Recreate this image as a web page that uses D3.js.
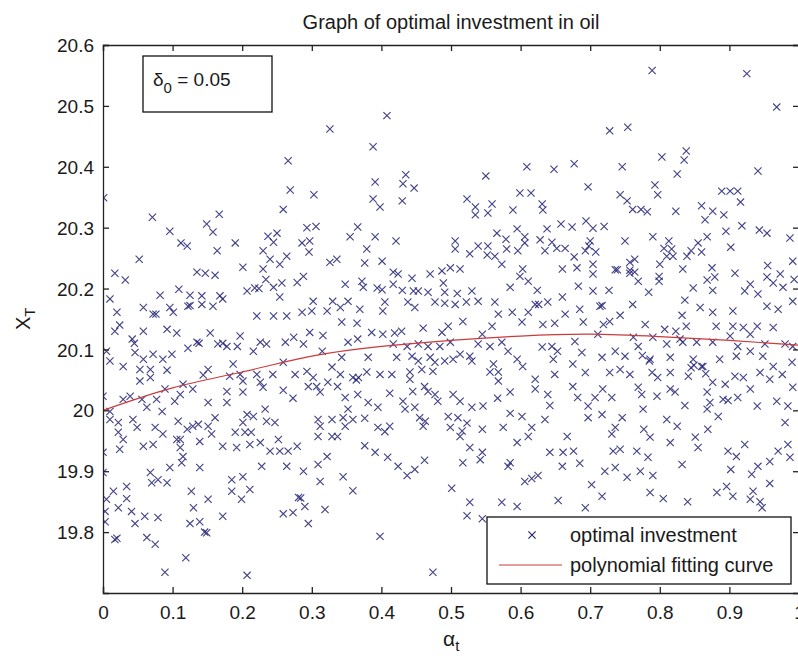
<!DOCTYPE html>
<html>
<head>
<meta charset="utf-8">
<script src="https://cdn.jsdelivr.net/npm/d3@7"></script>
<style>
  body { margin: 0; background: #fff; }
  svg text { font-family: "Liberation Sans", Arial, sans-serif; fill: #1a1a1a; }
</style>
</head>
<body>
<div id="chart"></div>
<script>
// alpha_t on x, X_T on y
const points = [
  [0.326,20.462],[0.266,20.41],[0.269,20.362],[0.303,20.354],[0.259,20.33],[0.001,20.349],[0.071,20.317],[0.167,20.322],
  [0.149,20.306],[0.158,20.293],[0.096,20.294],[0.293,20.30],[0.306,20.302],[0.112,20.275],[0.121,20.27],[0.19,20.275],
  [0.164,20.262],[0.237,20.286],[0.25,20.291],[0.245,20.276],[0.286,20.275],[0.297,20.278],[0.296,20.26],[0.23,20.262],
  [0.24,20.248],[0.254,20.24],[0.264,20.253],[0.052,20.248],[0.326,20.243],[0.017,20.225],[0.032,20.214],[0.135,20.227],
  [0.147,20.225],[0.161,20.222],[0.201,20.235],[0.23,20.232],[0.234,20.215],[0.279,20.21],[0.288,20.22],[0.257,20.209],
  [0.109,20.199],[0.125,20.189],[0.082,20.189],[0.142,20.188],[0.168,20.188],[0.207,20.196],[0.218,20.201],[0.245,20.202],
  [0.254,20.186],[0.01,20.183],[0.058,20.169],[0.096,20.169],[0.122,20.171],[0.142,20.174],[0.158,20.171],[0.172,20.183],
  [0.02,20.161],[0.072,20.158],[0.076,20.158],[0.101,20.161],[0.302,20.179],[0.30,20.163],[0.322,20.163],[0.33,20.179],
  [0.221,20.155],[0.245,20.155],[0.264,20.155],[0.286,20.161],[0.125,20.172],[0.224,20.2],
  [0.408,20.484],[0.388,20.433],[0.391,20.375],[0.435,20.387],[0.431,20.372],[0.447,20.365],[0.388,20.347],[0.398,20.334],
  [0.43,20.344],[0.55,20.385],[0.609,20.40],[0.648,20.396],[0.523,20.347],[0.535,20.334],[0.535,20.321],[0.553,20.324],
  [0.559,20.339],[0.589,20.329],[0.599,20.357],[0.615,20.357],[0.631,20.339],[0.632,20.329],[0.366,20.301],[0.355,20.285],
  [0.391,20.285],[0.421,20.278],[0.379,20.265],[0.376,20.242],[0.401,20.245],[0.336,20.248],[0.506,20.278],[0.506,20.265],
  [0.527,20.257],[0.539,20.27],[0.553,20.27],[0.552,20.255],[0.563,20.253],[0.573,20.24],[0.566,20.291],[0.579,20.281],
  [0.58,20.265],[0.595,20.298],[0.596,20.262],[0.606,20.285],[0.606,20.275],[0.628,20.28],[0.638,20.298],[0.635,20.262],
  [0.645,20.276],[0.652,20.266],[0.658,20.306],[0.664,20.266],[0.66,20.232],[0.348,20.207],[0.372,20.212],[0.374,20.202],
  [0.394,20.201],[0.417,20.227],[0.424,20.224],[0.417,20.207],[0.43,20.197],[0.444,20.217],[0.453,20.196],[0.47,20.224],
  [0.467,20.194],[0.487,20.229],[0.499,20.234],[0.513,20.232],[0.489,20.209],[0.491,20.194],[0.509,20.192],[0.53,20.196],
  [0.539,20.179],[0.563,20.178],[0.585,20.202],[0.599,20.22],[0.603,20.232],[0.611,20.212],[0.624,20.197],[0.621,20.174],
  [0.639,20.178],[0.66,20.186],[0.352,20.179],[0.341,20.169],[0.369,20.166],[0.405,20.178],[0.402,20.163],[0.438,20.178],
  [0.448,20.169],[0.477,20.178],[0.491,20.176],[0.506,20.174],[0.568,20.158],[0.588,20.161],[0.611,20.161],[0.664,20.158],
  [0.401,20.198],[0.446,20.196],[0.522,20.178],[0.626,20.174],
  [0.789,20.558],[0.925,20.553],[0.968,20.498],[0.728,20.459],[0.754,20.465],[0.803,20.416],[0.838,20.426],[0.835,20.411],
  [0.825,20.388],[0.941,20.393],[0.677,20.405],[0.746,20.40],[0.697,20.367],[0.793,20.37],[0.797,20.354],[0.743,20.354],
  [0.753,20.344],[0.761,20.33],[0.773,20.33],[0.782,20.326],[0.823,20.327],[0.889,20.36],[0.901,20.36],[0.912,20.36],
  [0.916,20.342],[0.86,20.336],[0.876,20.327],[0.865,20.313],[0.892,20.321],[0.918,20.303],[0.943,20.296],[0.954,20.291],
  [0.987,20.283],[0.895,20.294],[0.902,20.268],[0.694,20.311],[0.704,20.299],[0.72,20.302],[0.674,20.301],[0.70,20.278],
  [0.698,20.27],[0.693,20.262],[0.708,20.26],[0.677,20.252],[0.75,20.278],[0.79,20.285],[0.813,20.278],[0.806,20.266],
  [0.817,20.265],[0.81,20.253],[0.819,20.253],[0.80,20.24],[0.839,20.253],[0.845,20.262],[0.855,20.275],[0.86,20.26],
  [0.868,20.285],[0.681,20.234],[0.704,20.24],[0.704,20.224],[0.736,20.231],[0.757,20.243],[0.764,20.248],[0.757,20.225],
  [0.764,20.227],[0.769,20.212],[0.799,20.22],[0.799,20.212],[0.833,20.232],[0.875,20.234],[0.868,20.214],[0.879,20.219],
  [0.876,20.197],[0.908,20.225],[0.955,20.238],[0.954,20.219],[0.973,20.224],[0.963,20.209],[0.977,20.202],[0.991,20.245],
  [0.993,20.215],[0.991,20.179],[0.683,20.204],[0.704,20.196],[0.727,20.197],[0.784,20.194],[0.848,20.201],[0.836,20.181],
  [0.858,20.169],[0.922,20.196],[0.93,20.207],[0.941,20.191],[0.954,20.171],[0.97,20.166],[0.714,20.171],[0.685,20.166],
  [0.761,20.174],[0.743,20.156],[0.905,20.163],[0.876,20.161],[0.832,20.156],[0.717,20.172],[0.739,20.231],[0.757,20.23],
  [0.024,20.14],[0.017,20.13],[0.042,20.117],[0.058,20.13],[0.092,20.133],[0.106,20.127],[0.135,20.112],[0.122,20.102],
  [0.154,20.127],[0.165,20.109],[0.178,20.105],[0.197,20.122],[0.193,20.105],[0.216,20.097],[0.226,20.112],[0.235,20.109],
  [0.262,20.112],[0.274,20.12],[0.288,20.109],[0.297,20.128],[0.316,20.123],[0.315,20.097],[0.005,20.097],[0.01,20.081],
  [0.029,20.072],[0.046,20.095],[0.058,20.084],[0.072,20.092],[0.086,20.084],[0.099,20.092],[0.053,20.067],[0.068,20.067],
  [0.092,20.066],[0.053,20.048],[0.068,20.054],[0.151,20.067],[0.144,20.058],[0.187,20.076],[0.197,20.059],[0.182,20.056],
  [0.201,20.048],[0.221,20.059],[0.226,20.046],[0.23,20.038],[0.244,20.059],[0.259,20.079],[0.276,20.059],[0.293,20.064],
  [0.302,20.054],[0.295,20.039],[0.307,20.039],[0.312,20.03],[0.323,20.046],[0.329,20.071],[0.259,20.033],[0.273,20.02],
  [0.129,20.035],[0.115,20.043],[0.089,20.035],[0.0,20.023],[0.029,20.018],[0.039,20.023],[0.056,20.018],[0.077,20.018],
  [0.103,20.015],[0.111,20.026],[0.178,20.031],[0.151,20.013],[0.178,20.013],[0.201,20.03],[0.01,19.998],[0.01,19.985],
  [0.022,19.98],[0.043,19.985],[0.049,19.972],[0.063,20.005],[0.085,19.998],[0.075,19.972],[0.086,19.961],[0.022,19.964],
  [0.029,19.952],[0.024,19.936],[0.0,19.931],[0.058,19.941],[0.072,19.944],[0.106,19.952],[0.108,19.982],[0.121,19.969],
  [0.129,19.974],[0.137,19.977],[0.139,19.949],[0.151,19.974],[0.161,19.988],[0.156,19.961],[0.111,19.939],[0.115,19.924],
  [0.113,19.914],[0.111,19.952],[0.172,19.941],[0.192,19.939],[0.19,19.964],[0.201,19.98],[0.207,19.993],[0.216,19.99],
  [0.204,19.964],[0.213,19.964],[0.211,19.944],[0.226,19.947],[0.233,20.002],[0.235,19.982],[0.247,19.98],[0.252,19.952],
  [0.24,19.933],[0.254,19.933],[0.266,19.933],[0.279,19.941],[0.309,19.985],[0.312,19.974],[0.309,19.957],[0.329,19.985],
  [0.329,19.957],[0.322,19.924],[0.309,19.911],[0.312,19.883],[0.288,19.9],[0.264,19.908],[0.228,19.908],[0.139,19.906],
  [0.096,19.906],[0.068,19.898],[0.07,19.881],[0.079,19.886],[0.092,19.881],[0.185,19.886],[0.201,19.891],[0.185,19.867],
  [0.211,19.87],[0.199,19.854],[0.127,19.867],[0.151,19.854],[0.034,19.875],[0.015,19.867],[0.005,19.854],[0.034,19.855],
  [0.022,19.84],[0.041,19.834],[0.003,19.834],[0.06,19.826],[0.079,19.824],[0.046,19.814],[0.13,19.84],[0.125,19.814],
  [0.139,19.817],[0.149,19.799],[0.172,19.826],[0.281,19.857],[0.29,19.842],[0.259,19.83],[0.273,19.832],[0.295,19.814],
  [0.319,19.837],[0.003,19.817],[0.017,19.788],[0.063,19.791],[0.075,19.78],[0.119,19.758],[0.089,19.734],[0.207,19.729],
  [0.0,19.898],[0.146,19.8],[0.02,19.79],[0.045,20.11],[0.138,20.11],[0.172,20.11],[0.284,19.856],
  [0.343,20.145],[0.365,20.143],[0.386,20.128],[0.402,20.125],[0.419,20.127],[0.429,20.13],[0.46,20.135],[0.487,20.128],
  [0.496,20.138],[0.517,20.146],[0.559,20.138],[0.545,20.125],[0.602,20.145],[0.632,20.141],[0.649,20.143],[0.352,20.112],
  [0.366,20.117],[0.417,20.109],[0.437,20.105],[0.453,20.109],[0.467,20.105],[0.484,20.105],[0.499,20.112],[0.539,20.109],
  [0.556,20.105],[0.573,20.112],[0.582,20.097],[0.595,20.084],[0.603,20.072],[0.631,20.104],[0.645,20.105],[0.653,20.097],
  [0.647,20.084],[0.343,20.087],[0.381,20.087],[0.422,20.087],[0.444,20.089],[0.453,20.081],[0.47,20.087],[0.477,20.079],
  [0.491,20.081],[0.503,20.084],[0.513,20.092],[0.527,20.089],[0.53,20.081],[0.561,20.076],[0.568,20.063],[0.568,20.048],
  [0.556,20.063],[0.341,20.059],[0.359,20.054],[0.379,20.063],[0.398,20.059],[0.415,20.059],[0.441,20.063],[0.458,20.067],
  [0.474,20.064],[0.441,20.051],[0.621,20.051],[0.621,20.035],[0.649,20.059],[0.337,20.039],[0.366,20.026],[0.381,20.013],
  [0.395,20.005],[0.412,20.028],[0.431,20.015],[0.434,20.002],[0.448,20.005],[0.445,20.031],[0.462,20.039],[0.467,20.031],
  [0.477,20.026],[0.481,20.015],[0.503,20.026],[0.513,20.015],[0.53,20.005],[0.546,20.007],[0.585,20.03],[0.639,20.026],
  [0.642,20.008],[0.348,20.021],[0.352,20.002],[0.345,19.988],[0.359,19.985],[0.376,19.987],[0.395,19.972],[0.412,19.974],
  [0.405,19.965],[0.348,19.974],[0.337,19.957],[0.455,19.988],[0.46,19.974],[0.496,19.99],[0.51,19.988],[0.499,19.972],
  [0.523,19.979],[0.516,19.966],[0.513,19.957],[0.545,19.969],[0.575,19.972],[0.585,19.995],[0.602,19.99],[0.616,19.972],
  [0.611,19.957],[0.635,19.985],[0.667,19.957],[0.595,19.947],[0.376,19.942],[0.391,19.931],[0.409,19.923],[0.424,19.908],
  [0.437,19.893],[0.448,19.903],[0.462,19.918],[0.517,19.914],[0.527,19.939],[0.545,19.931],[0.542,19.919],[0.582,19.908],
  [0.585,19.914],[0.642,19.931],[0.661,19.931],[0.66,19.908],[0.345,19.891],[0.359,19.868],[0.501,19.872],[0.606,19.883],
  [0.616,19.888],[0.625,19.893],[0.527,19.849],[0.573,19.849],[0.595,19.842],[0.523,19.827],[0.545,19.822],[0.654,19.852],
  [0.398,19.793],[0.474,19.734],[0.364,20.05],[0.367,20.054],[0.567,20.02],[0.463,19.982],
  [0.69,20.145],[0.719,20.141],[0.728,20.146],[0.779,20.141],[0.807,20.133],[0.823,20.13],[0.838,20.138],[0.881,20.138],
  [0.905,20.138],[0.92,20.136],[0.94,20.138],[0.963,20.136],[0.678,20.113],[0.711,20.125],[0.762,20.12],[0.79,20.12],
  [0.81,20.109],[0.829,20.117],[0.833,20.112],[0.853,20.112],[0.876,20.112],[0.901,20.122],[0.912,20.105],[0.93,20.125],
  [0.951,20.109],[0.98,20.109],[0.991,20.105],[0.688,20.095],[0.717,20.087],[0.736,20.097],[0.75,20.089],[0.769,20.105],
  [0.786,20.084],[0.815,20.087],[0.848,20.084],[0.862,20.072],[0.886,20.084],[0.91,20.089],[0.93,20.097],[0.948,20.089],
  [0.963,20.072],[0.99,20.079],[0.675,20.076],[0.693,20.062],[0.728,20.062],[0.743,20.067],[0.757,20.059],[0.789,20.062],
  [0.797,20.054],[0.815,20.062],[0.841,20.056],[0.86,20.072],[0.876,20.046],[0.894,20.043],[0.908,20.056],[0.92,20.054],
  [0.944,20.062],[0.958,20.051],[0.976,20.059],[0.991,20.038],[0.675,20.039],[0.682,20.021],[0.707,20.021],[0.718,20.035],
  [0.731,20.021],[0.769,20.038],[0.774,20.026],[0.796,20.023],[0.815,20.035],[0.822,20.03],[0.868,20.03],[0.872,20.013],
  [0.891,20.018],[0.912,20.021],[0.93,20.035],[0.968,20.015],[0.984,20.007],[0.697,20.007],[0.717,19.993],[0.697,19.988],
  [0.746,19.988],[0.776,20.002],[0.836,20.008],[0.868,20.002],[0.884,19.99],[0.81,19.985],[0.825,19.974],[0.94,20.007],
  [0.98,19.98],[0.736,19.972],[0.731,19.961],[0.777,19.969],[0.786,19.956],[0.815,19.947],[0.851,19.956],[0.855,19.939],
  [0.869,19.969],[0.922,19.944],[0.676,19.933],[0.685,19.913],[0.733,19.933],[0.743,19.936],[0.767,19.933],[0.783,19.923],
  [0.832,19.911],[0.898,19.933],[0.91,19.924],[0.902,19.903],[0.941,19.908],[0.958,19.916],[0.97,19.933],[0.984,19.944],
  [0.987,19.923],[0.721,19.9],[0.736,19.906],[0.753,19.89],[0.772,19.9],[0.79,19.893],[0.932,19.895],[0.958,19.88],
  [0.702,19.878],[0.717,19.859],[0.786,19.865],[0.805,19.855],[0.84,19.85],[0.882,19.865],[0.896,19.875],[0.905,19.859],
  [0.934,19.867],[0.93,19.854],[0.944,19.85],[0.947,19.84],[0.693,19.84],[0.775,20.09],[0.845,20.07],[0.849,20.074],
  [0.866,20.06],[0.785,20.081],[0.898,20.016]
];

// fitted polynomial, sampled off the red curve
const fitX = [0, 0.1, 0.2, 0.3, 0.4, 0.5, 0.6, 0.7, 0.8, 0.9, 1.0];
const fitY = [20.0, 20.037, 20.063, 20.089, 20.105, 20.115, 20.122, 20.125, 20.121, 20.115, 20.107];

const xTicks = [0, 0.1, 0.2, 0.3, 0.4, 0.5, 0.6, 0.7, 0.8, 0.9, 1];
const xTickLabels = ['0', '0.1', '0.2', '0.3', '0.4', '0.5', '0.6', '0.7', '0.8', '0.9', '1'];
const yTicks = [19.8, 19.9, 20, 20.1, 20.2, 20.3, 20.4, 20.5, 20.6];
const yTickLabels = ['19.8', '19.9', '20', '20.1', '20.2', '20.3', '20.4', '20.5', '20.6'];

const legendLabels = ['optimal investment', 'polynomial fitting curve'];

const width = 798, height = 660;
const margin = { top: 45, right: -1, bottom: 67, left: 103 };
const plotW = width - margin.left - margin.right;
const plotH = height - margin.top - margin.bottom;

const markColor = '#1e1e72';
const fitColor = '#cc3a3a';

const svg = d3.select('#chart').append('svg')
  .attr('width', width)
  .attr('height', height)
  .attr('viewBox', `0 0 ${width} ${height}`);

const x = d3.scaleLinear().domain([0, 1]).range([margin.left, margin.left + plotW]);
const y = d3.scaleLinear().domain([19.7, 20.6]).range([margin.top + plotH, margin.top]);

svg.append('defs').append('clipPath').attr('id', 'plot-clip')
  .append('rect')
  .attr('x', margin.left).attr('y', margin.top)
  .attr('width', plotW).attr('height', plotH);

// scatter
const cross = 'M-3.6,-3.6L3.6,3.6M-3.6,3.6L3.6,-3.6';
svg.append('g').attr('clip-path', 'url(#plot-clip)')
  .selectAll('path')
  .data(points)
  .join('path')
  .attr('transform', d => `translate(${x(d[0])},${y(d[1])})`)
  .attr('d', cross)
  .attr('fill', 'none')
  .attr('stroke', markColor)
  .attr('stroke-width', 1.1)
  .attr('stroke-opacity', 0.85);

// fit curve
const line = d3.line()
  .x(d => x(d[0]))
  .y(d => y(d[1]))
  .curve(d3.curveNatural);
svg.append('path')
  .attr('clip-path', 'url(#plot-clip)')
  .datum(d3.zip(fitX, fitY))
  .attr('d', line)
  .attr('fill', 'none')
  .attr('stroke', fitColor)
  .attr('stroke-width', 1.2);

// axes, ticks pointing inward on all four sides
const tickLen = -6;
const fmtX = d => xTickLabels[xTicks.indexOf(d)];
const fmtY = d => yTickLabels[yTicks.indexOf(d)];

svg.append('g').attr('transform', `translate(0,${margin.top + plotH})`)
  .call(d3.axisBottom(x).tickValues(xTicks).tickFormat(fmtX).tickSize(tickLen).tickPadding(13));
svg.append('g').attr('transform', `translate(0,${margin.top})`)
  .call(d3.axisTop(x).tickValues(xTicks).tickFormat('').tickSize(tickLen));
const gy = svg.append('g').attr('transform', `translate(${margin.left},0)`)
  .call(d3.axisLeft(y).tickValues(yTicks).tickFormat(fmtY).tickSize(tickLen).tickPadding(9));
svg.append('g').attr('transform', `translate(${margin.left + plotW},0)`)
  .call(d3.axisRight(y).tickValues(yTicks).tickFormat('').tickSize(tickLen));

svg.selectAll('.domain').attr('stroke', '#222').attr('stroke-width', 1.3);
svg.selectAll('.tick line').attr('stroke', '#222').attr('stroke-width', 1.3);
svg.selectAll('.tick text').attr('font-size', 19).attr('font-family', '"Liberation Sans", Arial, sans-serif').attr('fill', '#222');
gy.selectAll('.tick text').attr('dy', '0.35em');

// title and axis labels
svg.append('text')
  .attr('x', 451).attr('y', 29)
  .attr('text-anchor', 'middle')
  .attr('font-size', 20)
  .text('Graph of optimal investment in oil');

const xl = svg.append('text')
  .attr('x', 443).attr('y', 646)
  .attr('font-size', 21);
xl.append('tspan').text('α');
xl.append('tspan').attr('font-size', 15).attr('dy', 5).text('t');

const yl = svg.append('text')
  .attr('transform', 'translate(30,330) rotate(-90)')
  .attr('font-size', 20);
yl.append('tspan').text('X');
yl.append('tspan').attr('font-size', 15).attr('dy', 5).text('T');

// delta annotation box
svg.append('rect')
  .attr('x', 143).attr('y', 56).attr('width', 129).attr('height', 56)
  .attr('fill', '#fff').attr('stroke', '#111').attr('stroke-width', 1.3);
const dt = svg.append('text').attr('x', 153).attr('y', 86).attr('font-size', 19);
dt.append('tspan').text('δ');
dt.append('tspan').attr('font-size', 15).attr('dy', 7).text('0');
dt.append('tspan').attr('dy', -7).text(' = 0.05');

// legend
const lg = svg.append('g');
lg.append('rect')
  .attr('x', 487).attr('y', 517).attr('width', 304).attr('height', 67)
  .attr('fill', '#fff').attr('stroke', '#111').attr('stroke-width', 1.3);
lg.append('path')
  .attr('transform', 'translate(532,535)')
  .attr('d', cross)
  .attr('fill', 'none').attr('stroke', markColor).attr('stroke-width', 1.1);
lg.append('line')
  .attr('x1', 499).attr('x2', 562).attr('y1', 565).attr('y2', 565)
  .attr('stroke', fitColor).attr('stroke-width', 1.2);
lg.selectAll('text.lab')
  .data(legendLabels)
  .join('text')
  .attr('class', 'lab')
  .attr('x', 570)
  .attr('y', (d, i) => 542 + i * 30)
  .attr('font-size', 20)
  .text(d => d);
</script>
</body>
</html>
